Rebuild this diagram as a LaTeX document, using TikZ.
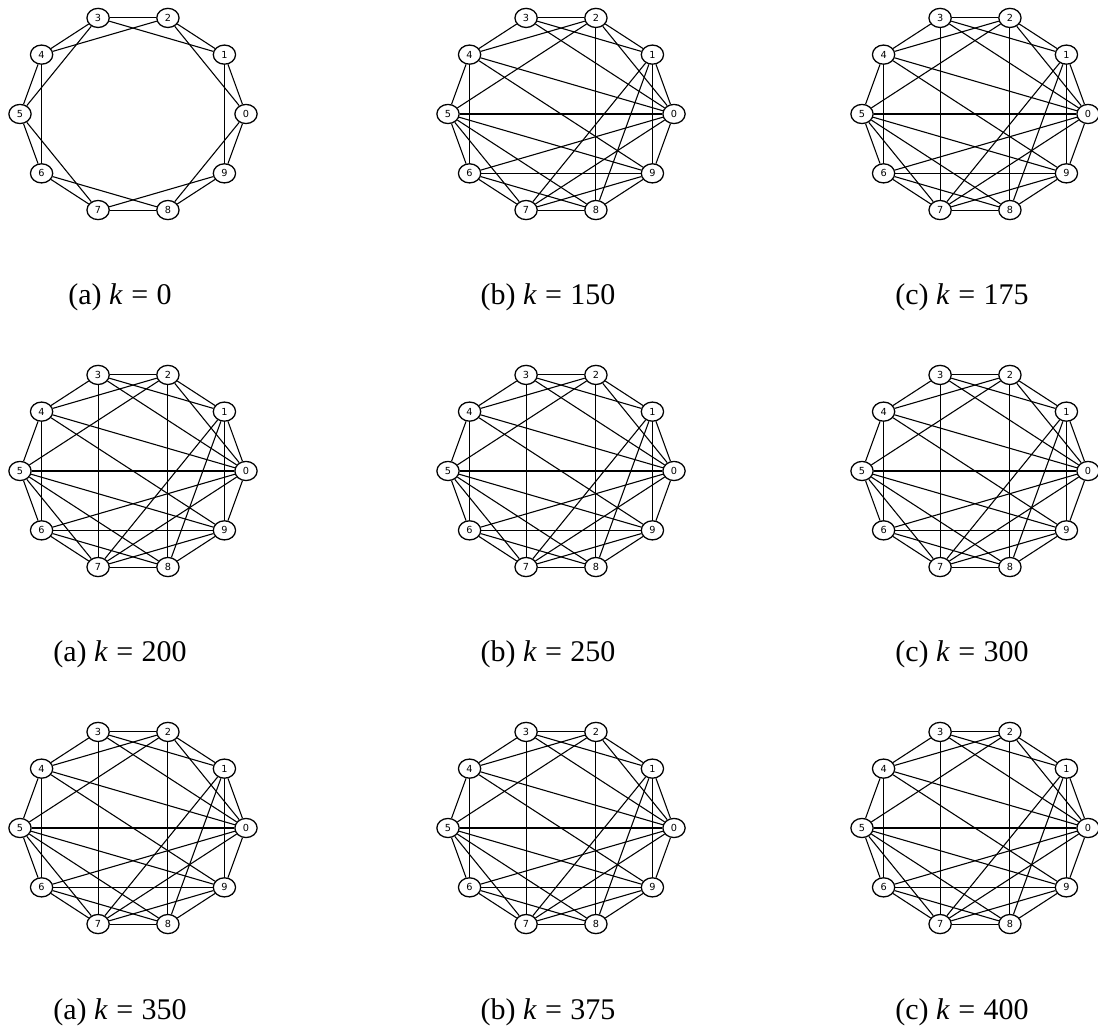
\documentclass[tikz,border=0pt]{standalone}
\usepackage{fontspec}
\setmainfont{Liberation Serif}
\newfontfamily\vtxfont{DejaVu Sans}
\usetikzlibrary{shapes.geometric}

\tikzset{
  vtx/.style={ellipse, draw, line width=0.45pt, fill=white, minimum width=7.8pt,
    minimum height=6.7pt, inner sep=0pt, font=\vtxfont\fontsize{3.4}{3.6}\selectfont},
  lnk/.style={line width=0.38pt},
  subcap/.style={anchor=base, font=\fontsize{10.5}{12}\selectfont}
}

% ring of ten vertices, then its edges
\newcommand{\netgraph}[4]{%
  \foreach \i in {0,...,9}
    \node[vtx] (#1\i) at ({#2+113*cos(36*\i)},{#3-101*sin(36*\i)}) {\i};
  \foreach \u/\v in #4
    \draw[lnk] (#1\u) -- (#1\v);
}
\newcommand{\keq}[1]{\textit{k}\hspace{.28em}=\hspace{.28em}#1}

\def\edgesA{0/1,1/2,2/3,3/4,4/5,5/6,6/7,7/8,8/9,9/0,0/2,1/3,2/4,3/5,4/6,5/7,6/8,7/9,8/0,9/1}
\def\edgesB{0/1,0/2,0/3,0/4,0/5,0/6,0/7,0/9,1/2,1/3,1/7,1/8,1/9,2/3,2/4,2/5,2/8,3/4,
  4/5,4/6,4/9,5/6,5/7,5/8,5/9,6/7,6/8,6/9,7/8,7/9,8/9}
\def\edgesC{0/1,0/2,0/3,0/4,0/5,0/6,0/7,0/9,1/2,1/3,1/7,1/8,1/9,2/3,2/4,2/5,2/8,3/4,3/7,
  4/5,4/6,4/9,5/6,5/7,5/8,5/9,6/7,6/8,6/9,7/8,7/9,8/9}

\begin{document}
\begin{tikzpicture}[x=0.35pt,y=-0.35pt]
  \useasboundingbox (0,0) rectangle (1098,1026);

  \netgraph{a}{133}{114}{\edgesA}
  \netgraph{b}{561}{114}{\edgesB}
  \netgraph{c}{975}{114}{\edgesC}
  \netgraph{d}{133}{471}{\edgesC}
  \netgraph{e}{561}{471}{\edgesC}
  \netgraph{f}{975}{471}{\edgesC}
  \netgraph{g}{133}{828}{\edgesC}
  \netgraph{h}{561}{828}{\edgesC}
  \netgraph{i}{975}{828}{\edgesC}

  \node[subcap] (capa) at (120,305) {(a) \keq{0}};
  \node[subcap] (capb) at (548,305) {(b) \keq{150}};
  \node[subcap] (capc) at (962,305) {(c) \keq{175}};
  \node[subcap] (capd) at (120,662) {(a) \keq{200}};
  \node[subcap] (cape) at (548,662) {(b) \keq{250}};
  \node[subcap] (capf) at (962,662) {(c) \keq{300}};
  \node[subcap] (capg) at (120,1019) {(a) \keq{350}};
  \node[subcap] (caph) at (548,1019) {(b) \keq{375}};
  \node[subcap] (capi) at (962,1019) {(c) \keq{400}};
\end{tikzpicture}
\end{document}
